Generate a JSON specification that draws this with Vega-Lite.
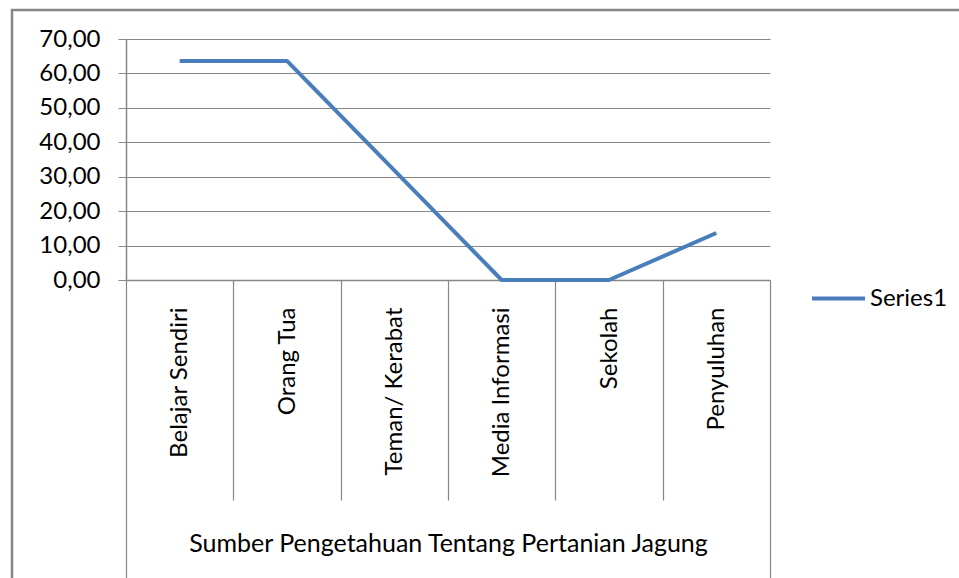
{
  "$schema": "https://vega.github.io/schema/vega-lite/v6.json",
  "width": 950,
  "height": 571,
  "autosize": {"type": "none"},
  "padding": {"left": 12, "top": 10, "right": 0, "bottom": 0},
  "background": "white",
  "config": {
    "view": {"stroke": "#868686", "strokeWidth": 2.5},
    "font": "Lato"
  },
  "data": {
    "values": [
      {"sumber": "Belajar Sendiri", "persen": 63.64},
      {"sumber": "Orang Tua", "persen": 63.64},
      {"sumber": "Teman/ Kerabat", "persen": 31.82},
      {"sumber": "Media Informasi", "persen": 0},
      {"sumber": "Sekolah", "persen": 0},
      {"sumber": "Penyuluhan", "persen": 13.64}
    ]
  },
  "mark": {"type": "line", "strokeWidth": 4, "strokeJoin": "round"},
  "encoding": {
    "x": {
      "field": "sumber",
      "type": "nominal",
      "sort": null,
      "scale": {"type": "band", "range": [114, 758], "paddingInner": 0, "paddingOuter": 0},
      "axis": {
        "title": "Sumber Pengetahuan Tentang Pertanian Jagung",
        "titleFontSize": 25,
        "titleFontWeight": "normal",
        "titleColor": "#000000",
        "titleY": 263,
        "titleBaseline": "middle",
        "orient": "bottom",
        "offset": -301,
        "domainColor": "#868686",
        "domainWidth": 1.5,
        "tickBand": "extent",
        "tickColor": "#868686",
        "tickWidth": 1.2,
        "tickSize": 298,
        "tickDash": {"condition": {"test": "indexof(['Belajar Sendiri','Orang Tua','Teman/ Kerabat','Media Informasi','Sekolah'], datum.value) >= 0", "value": [220, 400]}, "value": []},
        "labelAngle": -90,
        "labelAlign": "right",
        "labelBaseline": "middle",
        "labelFontSize": 24,
        "labelColor": "#000000",
        "labelPadding": -271
      }
    },
    "y": {
      "field": "persen",
      "type": "quantitative",
      "scale": {"domain": [0, 70], "range": [270, 29], "nice": false},
      "axis": {
        "title": null,
        "values": [0, 10, 20, 30, 40, 50, 60, 70],
        "labelExpr": "replace(format(datum.value, '.2f'), '.', ',')",
        "offset": -114,
        "grid": true,
        "gridColor": "#868686",
        "gridWidth": 1.2,
        "domainColor": "#868686",
        "domainWidth": 1.5,
        "tickColor": "#868686",
        "tickSize": 8,
        "labelFontSize": 24,
        "labelColor": "#000000",
        "labelPadding": 18
      }
    },
    "color": {
      "datum": "Series1",
      "scale": {"range": ["#4A7EBB"]},
      "legend": {
        "title": null,
        "orient": "none",
        "legendX": 798,
        "legendY": 260,
        "symbolType": "stroke",
        "symbolSize": 2809,
        "symbolStrokeWidth": 4,
        "labelFontSize": 24,
        "labelColor": "#000000",
        "labelOffset": 3
      }
    }
  }
}
